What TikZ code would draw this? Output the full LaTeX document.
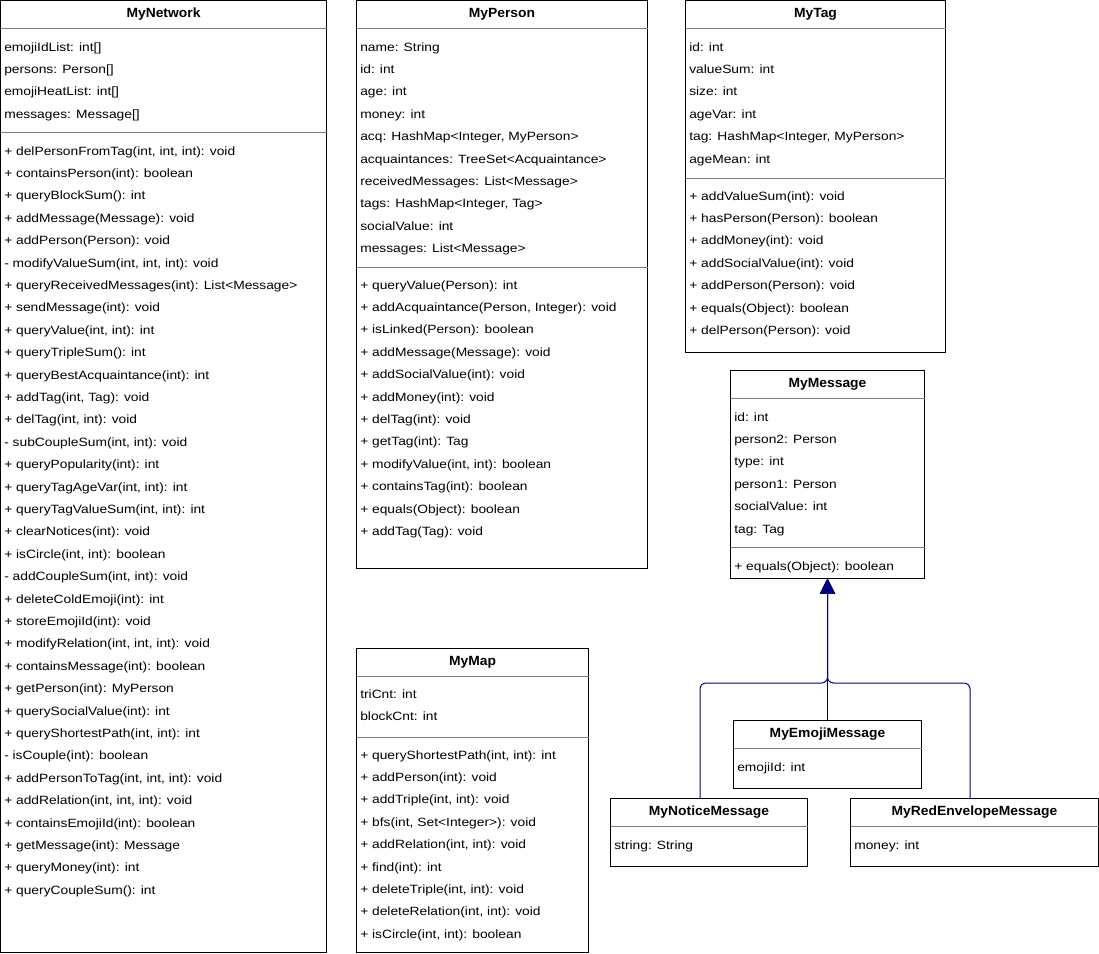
\documentclass[tikz,border=0pt]{standalone}
\usepackage{fontspec}
\setmainfont{Liberation Sans}[FakeStretch=1.15]
\newfontfamily\titlefont{Liberation Sans}[FakeStretch=1.04]
\usetikzlibrary{arrows.meta,fit}

\definecolor{navyline}{RGB}{0,0,128}

\tikzset{
  cls/.style={draw, line width=0.75pt, inner sep=0pt},
  ctitle/.style={font=\titlefont\bfseries, anchor=base, inner sep=0pt},
  member/.style={anchor=base west, inner sep=0pt},
  sepline/.style={draw=gray, line width=0.75pt},
  inherit/.style={draw=navyline, line width=0.75pt, rounded corners=4.5pt,
    -{Triangle[length=11.25pt,width=11.25pt]}}
}

% list of members, one every 22.4px
\newcommand{\members}[4]{%
  \foreach \m [count=\i from 0] in {#4}
    \node[member] (#1\i) at (#2,{#3+4+22.4*\i}) {\m};}

\begin{document}
\begin{tikzpicture}[x=0.75pt,y=-0.75pt,font=\fontsize{9}{11}\selectfont]
  \useasboundingbox (0,0) rectangle (1099,953);

  % MyNetwork
  \node[cls, fit={(0.5,0.5) (326.5,952)}] (net) {};
  \node[ctitle] (net-t) at (163.5,17) {MyNetwork};
  \draw[sepline] (0.5,28) -- (326.5,28);
  \draw[sepline] (0.5,132) -- (326.5,132);
  \members{net-a}{4}{47}{{emojiIdList: int[]},{persons: Person[]},{emojiHeatList: int[]},{messages: Message[]}}
  \members{net-m}{4}{151}{{+ delPersonFromTag(int, int, int): void},{+ containsPerson(int): boolean},
    {+ queryBlockSum(): int},{+ addMessage(Message): void},{+ addPerson(Person): void},
    {- modifyValueSum(int, int, int): void},{+ queryReceivedMessages(int): List<Message>},
    {+ sendMessage(int): void},{+ queryValue(int, int): int},{+ queryTripleSum(): int},
    {+ queryBestAcquaintance(int): int},{+ addTag(int, Tag): void},{+ delTag(int, int): void},
    {- subCoupleSum(int, int): void},{+ queryPopularity(int): int},{+ queryTagAgeVar(int, int): int},
    {+ queryTagValueSum(int, int): int},{+ clearNotices(int): void},{+ isCircle(int, int): boolean},
    {- addCoupleSum(int, int): void},{+ deleteColdEmoji(int): int},{+ storeEmojiId(int): void},
    {+ modifyRelation(int, int, int): void},{+ containsMessage(int): boolean},
    {+ getPerson(int): MyPerson},{+ querySocialValue(int): int},{+ queryShortestPath(int, int): int},
    {- isCouple(int): boolean},{+ addPersonToTag(int, int, int): void},{+ addRelation(int, int, int): void},
    {+ containsEmojiId(int): boolean},{+ getMessage(int): Message},{+ queryMoney(int): int},
    {+ queryCoupleSum(): int}}

  % MyPerson
  \node[cls, fit={(356.5,0.5) (647.5,568)}] (per) {};
  \node[ctitle] (per-t) at (502,17) {MyPerson};
  \draw[sepline] (356.5,28) -- (647.5,28);
  \draw[sepline] (356.5,267) -- (647.5,267);
  \members{per-a}{360}{47}{{name: String},{id: int},{age: int},{money: int},
    {acq: HashMap<Integer, MyPerson>},{acquaintances: TreeSet<Acquaintance>},
    {receivedMessages: List<Message>},{tags: HashMap<Integer, Tag>},{socialValue: int},
    {messages: List<Message>}}
  \members{per-m}{360}{285}{{+ queryValue(Person): int},{+ addAcquaintance(Person, Integer): void},
    {+ isLinked(Person): boolean},{+ addMessage(Message): void},{+ addSocialValue(int): void},
    {+ addMoney(int): void},{+ delTag(int): void},{+ getTag(int): Tag},
    {+ modifyValue(int, int): boolean},{+ containsTag(int): boolean},{+ equals(Object): boolean},
    {+ addTag(Tag): void}}

  % MyTag
  \node[cls, fit={(685.5,0.5) (945.5,352)}] (tag) {};
  \node[ctitle] (tag-t) at (815.5,17) {MyTag};
  \draw[sepline] (685.5,28) -- (945.5,28);
  \draw[sepline] (685.5,178) -- (945.5,178);
  \members{tag-a}{689}{47}{{id: int},{valueSum: int},{size: int},{ageVar: int},
    {tag: HashMap<Integer, MyPerson>},{ageMean: int}}
  \members{tag-m}{689}{196}{{+ addValueSum(int): void},{+ hasPerson(Person): boolean},
    {+ addMoney(int): void},{+ addSocialValue(int): void},{+ addPerson(Person): void},
    {+ equals(Object): boolean},{+ delPerson(Person): void}}

  % MyMessage
  \node[cls, fit={(730.5,370.5) (924.5,578)}] (msg) {};
  \node[ctitle] (msg-t) at (827.5,387) {MyMessage};
  \draw[sepline] (730.5,398) -- (924.5,398);
  \draw[sepline] (730.5,547) -- (924.5,547);
  \members{msg-a}{734}{417}{{id: int},{person2: Person},{type: int},{person1: Person},
    {socialValue: int},{tag: Tag}}
  \members{msg-m}{734}{566}{{+ equals(Object): boolean}}

  % MyMap
  \node[cls, fit={(356.5,648.5) (588.5,952)}] (map) {};
  \node[ctitle] (map-t) at (472.5,665) {MyMap};
  \draw[sepline] (356.5,676) -- (588.5,676);
  \draw[sepline] (356.5,737) -- (588.5,737);
  \members{map-a}{360}{694}{{triCnt: int},{blockCnt: int}}
  \members{map-m}{360}{755}{{+ queryShortestPath(int, int): int},{+ addPerson(int): void},
    {+ addTriple(int, int): void},{+ bfs(int, Set<Integer>): void},{+ addRelation(int, int): void},
    {+ find(int): int},{+ deleteTriple(int, int): void},{+ deleteRelation(int, int): void},
    {+ isCircle(int, int): boolean}}

  % message subclasses
  \node[cls, fit={(733.5,720.5) (921.5,788)}] (emo) {};
  \node[ctitle] (emo-t) at (827.5,737) {MyEmojiMessage};
  \draw[sepline] (733.5,748) -- (921.5,748);
  \members{emo-a}{737}{767}{{emojiId: int}}

  \node[cls, fit={(610.5,798.5) (807.5,866)}] (ntc) {};
  \node[ctitle] (ntc-t) at (709,815) {MyNoticeMessage};
  \draw[sepline] (610.5,826) -- (807.5,826);
  \members{ntc-a}{614}{845}{{string: String}}

  \node[cls, fit={(850.5,798.5) (1098.5,866)}] (red) {};
  \node[ctitle] (red-t) at (974.5,815) {MyRedEnvelopeMessage};
  \draw[sepline] (850.5,826) -- (1098.5,826);
  \members{red-a}{854}{845}{{money: int}}

  % generalisation
  \coordinate (ntc-in) at (700,798.5);
  \coordinate (red-in) at (970,798.5);
  \coordinate (bus) at (827.5,683);
  \draw[inherit] (ntc-in) |- (bus) -- (msg.south);
  \draw[inherit] (red-in) |- (bus) -- (msg.south);
  \draw[inherit] (emo.north) -- (msg.south);
\end{tikzpicture}
\end{document}
